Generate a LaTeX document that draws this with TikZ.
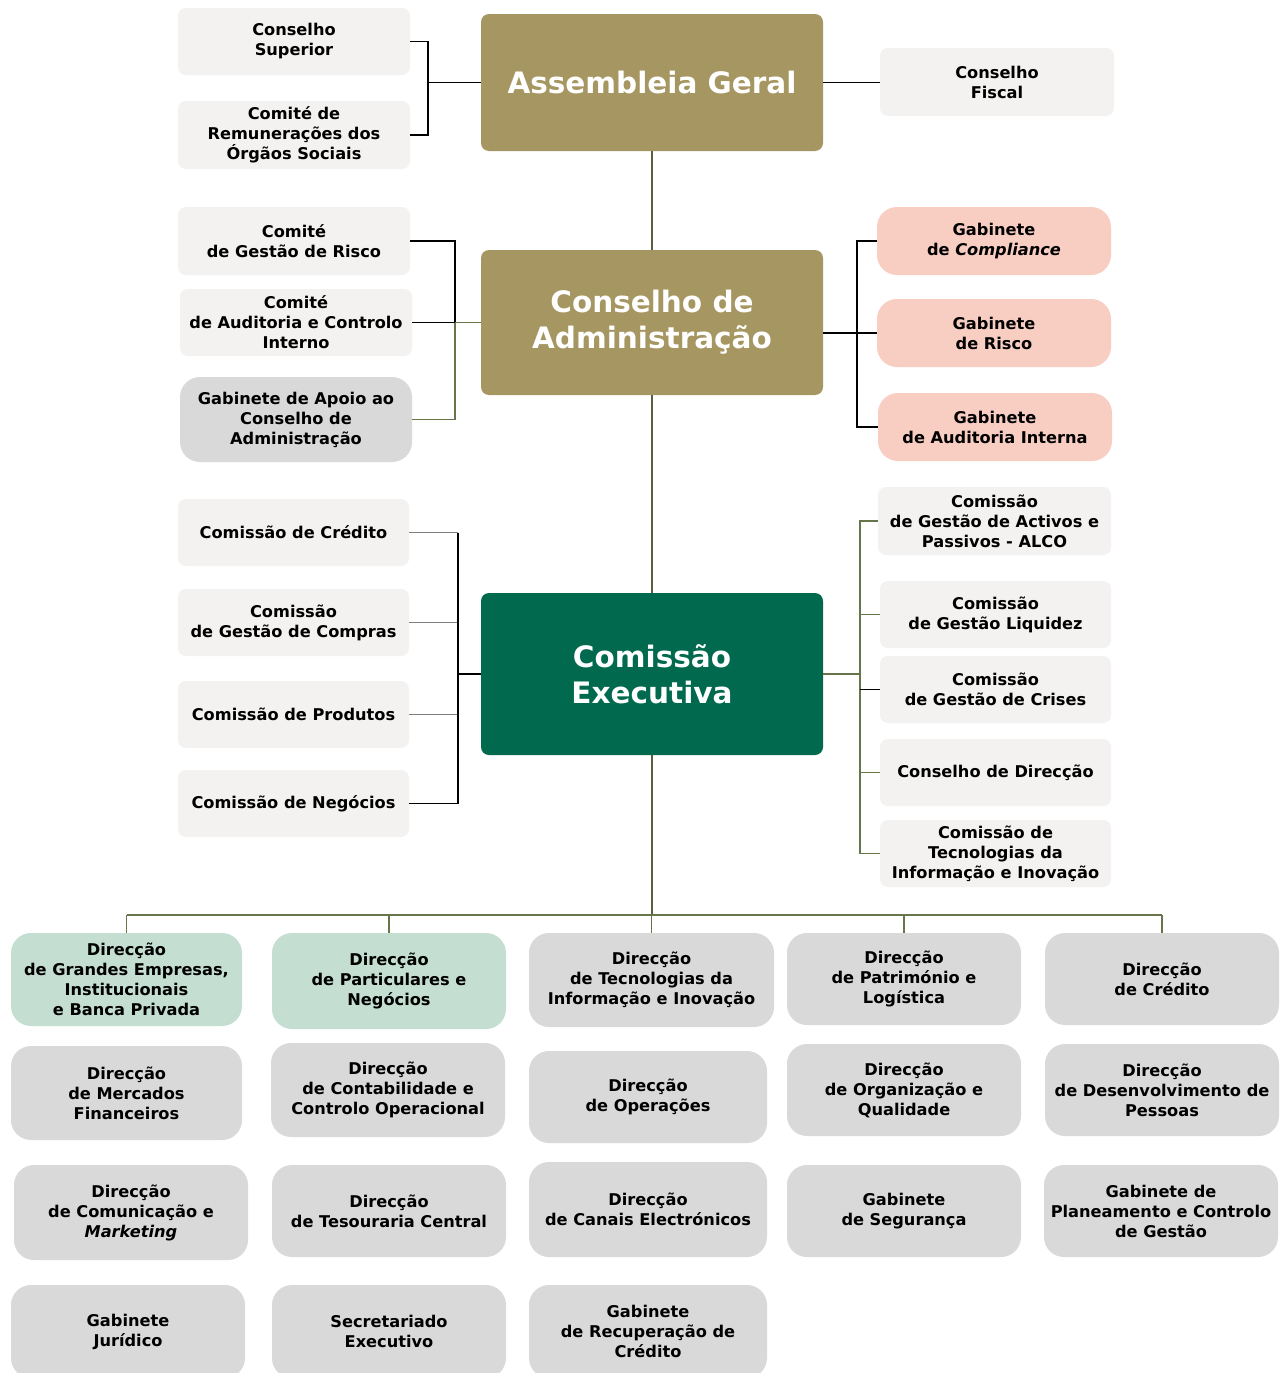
\documentclass[tikz,border=0pt]{standalone}
\usepackage{fontspec}
\setmainfont{DejaVu Sans}
\definecolor{lgray}{HTML}{F3F2F0}
\definecolor{mgray}{HTML}{D9D9D9}
\definecolor{olivebox}{HTML}{A69762}
\definecolor{dgreen}{HTML}{00694E}
\definecolor{pinkbox}{HTML}{F8CDC2}
\definecolor{lgreen}{HTML}{C4DED1}
\definecolor{oline}{HTML}{66764A}
\definecolor{trunk}{HTML}{55603F}
\definecolor{gline}{HTML}{7F7F7F}
\newcommand\smf{\fontsize{16.2}{20}\selectfont\bfseries}
\newcommand\bgf{\fontsize{29.5}{36}\selectfont\bfseries}
\newcommand\bx[7]{\node[#6, minimum width={(#4-#2)*1pt}, minimum height={(#5-#3)*1pt}] (#1) at ({(#2+#4)/2},{(#3+#5)/2}) {#7};}
\tikzset{
  base/.style={rounded corners=8pt, align=center, inner sep=0pt, font=\smf, draw=none},
  lg/.style={base, fill=lgray},
  gb/.style={base, fill=mgray, rounded corners=20pt},
  pk/.style={base, fill=pinkbox, rounded corners=20pt},
  lgn/.style={base, fill=lgreen, rounded corners=20pt},
  ob/.style={base, fill=olivebox, text=white, font=\bgf},
  dg/.style={base, fill=dgreen, text=white, font=\bgf},
  conn/.style={line width=1.3pt, black},
  gconn/.style={line width=1.3pt, oline},
  grconn/.style={line width=1.3pt, gline},
  tconn/.style={line width=1.3pt, trunk}
}
\begin{document}
\begin{tikzpicture}[x=1pt,y=-1pt]
\useasboundingbox (0,0) rectangle (1287,1373);
\clip (0,0) rectangle (1287,1373);
\fill[white] (0,0) rectangle (1287,1373);

% top
\bx{cs}{178}{8}{410}{75}{lg}{Conselho\\Superior}
\bx{cr}{178}{101}{410}{169}{lg}{Comité de\\Remunerações dos\\Órgãos Sociais}
\bx{ag}{481}{14}{823}{151}{ob}{Assembleia Geral}
\bx{cf}{880}{48}{1114}{116}{lg}{Conselho\\Fiscal}

% middle
\bx{cgr}{178}{207}{410}{275}{lg}{Comité\\de Gestão de Risco}
\bx{cai}{180}{289}{412}{356}{lg}{Comité\\de Auditoria e Controlo\\Interno}
\bx{gap}{180}{377}{412}{462}{gb}{Gabinete de Apoio ao\\Conselho de\\Administração}
\bx{ca}{481}{250}{823}{395}{ob}{Conselho de\\Administração}
\bx{gc}{877}{207}{1111}{275}{pk}{Gabinete\\de \textit{Compliance}}
\bx{gr}{877}{299}{1111}{367}{pk}{Gabinete\\de Risco}
\bx{gai}{878}{393}{1112}{461}{pk}{Gabinete\\de Auditoria Interna}

% executive
\bx{ccr}{178}{499}{409}{566}{lg}{Comissão de Crédito}
\bx{ccp}{178}{589}{409}{656}{lg}{Comissão\\de Gestão de Compras}
\bx{cpr}{178}{681}{409}{748}{lg}{Comissão de Produtos}
\bx{cng}{178}{770}{409}{837}{lg}{Comissão de Negócios}
\bx{ce}{481}{593}{823}{755}{dg}{Comissão\\Executiva}
\bx{alco}{878}{487}{1111}{555}{lg}{Comissão\\de Gestão de Activos e\\Passivos - ALCO}
\bx{cgl}{880}{581}{1111}{648}{lg}{Comissão\\de Gestão Liquidez}
\bx{cgc}{880}{656}{1111}{723}{lg}{Comissão\\de Gestão de Crises}
\bx{cdd}{880}{739}{1111}{806}{lg}{Conselho de Direcção}
\bx{cti}{880}{820}{1111}{887}{lg}{Comissão de\\Tecnologias da\\Informação e Inovação}

% row 1
\bx{r1a}{11}{933}{242}{1026}{lgn}{Direcção\\de Grandes Empresas,\\Institucionais\\e Banca Privada}
\bx{r1b}{272}{933}{506}{1029}{lgn}{Direcção\\de Particulares e\\Negócios}
\bx{r1c}{529}{933}{774}{1027}{gb}{Direcção\\de Tecnologias da\\Informação e Inovação}
\bx{r1d}{787}{933}{1021}{1025}{gb}{Direcção\\de Património e\\Logística}
\bx{r1e}{1045}{933}{1279}{1025}{gb}{Direcção\\de Crédito}
% row 2
\bx{r2a}{11}{1046}{242}{1140}{gb}{Direcção\\de Mercados\\Financeiros}
\bx{r2b}{271}{1043}{505}{1137}{gb}{Direcção\\de Contabilidade e\\Controlo Operacional}
\bx{r2c}{529}{1051}{767}{1143}{gb}{Direcção\\de Operações}
\bx{r2d}{787}{1044}{1021}{1136}{gb}{Direcção\\de Organização e\\Qualidade}
\bx{r2e}{1045}{1044}{1279}{1136}{gb}{Direcção\\de Desenvolvimento de\\Pessoas}
% row 3
\bx{r3a}{14}{1165}{248}{1260}{gb}{Direcção\\de Comunicação e\\\textit{Marketing}}
\bx{r3b}{272}{1165}{506}{1257}{gb}{Direcção\\de Tesouraria Central}
\bx{r3c}{529}{1162}{767}{1257}{gb}{Direcção\\de Canais Electrónicos}
\bx{r3d}{787}{1165}{1021}{1257}{gb}{Gabinete\\de Segurança}
\bx{r3e}{1044}{1165}{1278}{1257}{gb}{Gabinete de\\Planeamento e Controlo\\de Gestão}
% row 4
\bx{r4a}{11}{1285}{245}{1378}{gb}{Gabinete\\Jurídico}
\bx{r4b}{272}{1285}{506}{1378}{gb}{Secretariado\\Executivo}
\bx{r4c}{529}{1285}{767}{1378}{gb}{Gabinete\\de Recuperação de\\Crédito}

% connectors top
\coordinate (jt) at (428,82.5);
\draw[conn] (cs.east) -| (jt) |- (cr.east);
\draw[conn] (jt) -- (ag.west);
\draw[conn] (ag.east) -- (cf.west |- ag.east);

% trunk
\coordinate (bus) at (652,915);
\draw[tconn] (ag.south) -- (ca.north);
\draw[tconn] (ca.south) -- (ce.north);
\draw[tconn] (ce.south) -- (bus);
\draw[gconn] (r1a.north |- bus) -- (r1e.north |- bus);
\foreach \n in {r1a,r1b,r1c,r1d,r1e}{
  \draw[gconn] (\n.north |- bus) -- (\n.north);
}

% CA left
\coordinate (jcl) at (455,322.5);
\draw[conn] (cgr.east) -| (jcl);
\draw[conn] (cai.east) -- (jcl);
\draw[gconn] (jcl) |- (gap.east);
\draw[gconn] (jcl) -- (ca.west);

% CA right
\coordinate (jcr) at (857,333);
\draw[conn] (jcr -| ca.east) -- (gr.west);
\draw[conn] (gc.west) -| (jcr) |- (gai.west);

% CE left
\coordinate (jel) at (458,674);
\draw[grconn] (ccr.east) -- (ccr.east -| jel);
\draw[grconn] (ccp.east) -- (ccp.east -| jel);
\draw[grconn] (cpr.east) -- (cpr.east -| jel);
\draw[conn] (cng.east) -| (jel);
\draw[conn] (ccr.east -| jel) -- (jel);
\draw[conn] (jel) -- (ce.west);

% CE right
\coordinate (jer) at (860,674);
\draw[gconn] (ce.east) -- (jer);
\draw[gconn] (alco.west) -| (jer) |- (cti.west);
\draw[gconn] (cgl.west) -- (cgl.west -| jer);
\draw[conn] (cgc.west) -- (cgc.west -| jer);
\draw[gconn] (cdd.west) -- (cdd.west -| jer);
\end{tikzpicture}
\end{document}
